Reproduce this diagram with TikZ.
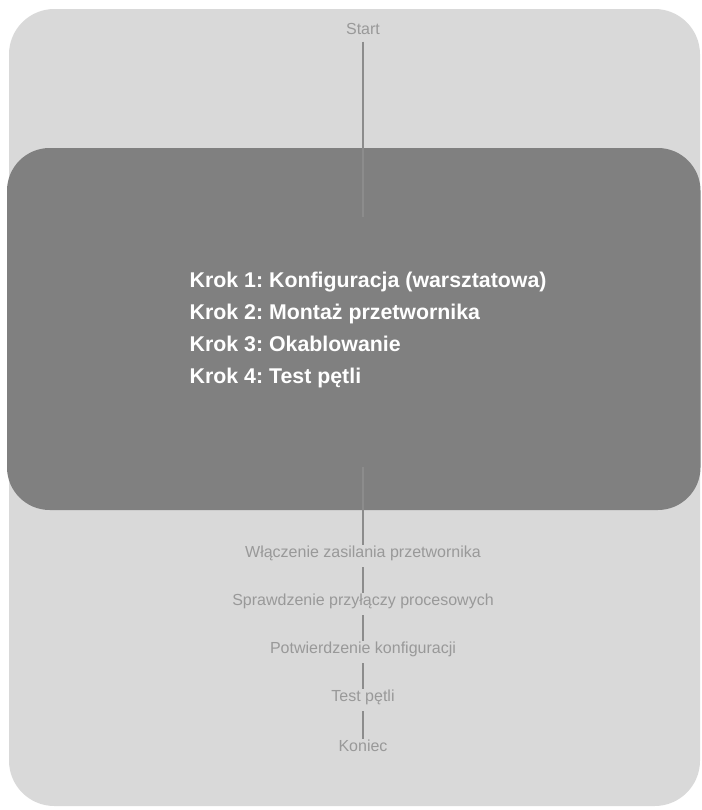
\documentclass[tikz,border=0pt]{standalone}
\usepackage{fontspec}
\setmainfont{Liberation Sans}
\definecolor{panel}{HTML}{D9D9D9}
\definecolor{stage}{HTML}{808080}
\definecolor{flowtxt}{HTML}{999999}
\definecolor{flowline}{HTML}{8C8C8C}
\frenchspacing
\begin{document}
\begin{tikzpicture}[x=0.75pt,y=-0.75pt,
  flow/.style={font=\fontsize{12}{14}\selectfont,text=flowtxt,inner sep=2pt},
  link/.style={draw=flowline,line width=1.9pt,shorten <=3pt,shorten >=-1.5pt}]
\useasboundingbox (0,0) rectangle (701,810);
\fill[panel,rounded corners=34pt] (9,9) rectangle (700,806);
\fill[stage,rounded corners=32pt] (7,148) rectangle (700.5,510);
\node[flow] (start) at (363,29) {Start};
\coordinate (inA) at (363,215);
\coordinate (outA) at (363,463);
\node[anchor=west,text=white,align=left,font=\fontsize{16}{24}\selectfont\bfseries] (steps) at (185,330)
  {Krok 1: Konfiguracja (warsztatowa)\\Krok 2: Montaż przetwornika\\Krok 3: Okablowanie\\Krok 4: Test pętli};
\node[flow] (power) at (363,553) {Włączenie zasilania przetwornika};
\node[flow] (ports) at (363,601) {Sprawdzenie przyłączy procesowych};
\node[flow] (confirm) at (363,649) {Potwierdzenie konfiguracji};
\node[flow] (loop) at (363,697) {Test pętli};
\node[flow] (finish) at (363,746) {Koniec};
\draw[link] (start) -- (inA);
\draw[link] (outA) -- (power);
\draw[link] (power) -- (ports);
\draw[link] (ports) -- (confirm);
\draw[link] (confirm) -- (loop);
\draw[link] (loop) -- (finish);
\end{tikzpicture}
\end{document}
